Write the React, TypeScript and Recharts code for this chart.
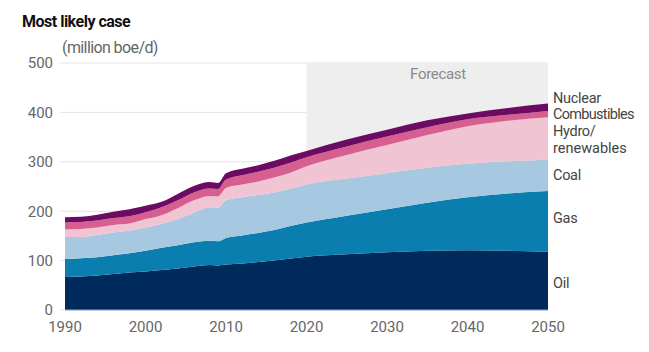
import React from 'react';
import {
  AreaChart,
  Area,
  XAxis,
  YAxis,
  CartesianGrid,
  ReferenceArea,
} from 'recharts';

// values in million boe/d
const years = [1990, 1992, 1994, 1996, 1998, 2000, 2002, 2004, 2006, 2008, 2009, 2010, 2012, 2014, 2016, 2018, 2020, 2025, 2030, 2035, 2040, 2045, 2050];
const oil = [67, 68, 70, 73, 76, 78, 81, 84, 88, 91, 90, 92, 94, 97, 100, 104, 108, 113, 117, 120, 121, 120, 118];
const gas = [36, 37, 37, 38, 39, 42, 45, 47, 49, 49, 49, 54, 57, 59, 62, 66, 69, 78, 87, 97, 107, 116, 123];
const coal = [45, 43, 45, 46, 46, 47, 48, 53, 60, 68, 68, 76, 77, 77, 76, 76, 77, 75, 73, 71, 68, 65, 63];
const hydro = [15, 16, 15, 15, 14, 17, 18, 22, 25, 23, 23, 25, 26, 27, 30, 32, 37, 48, 57, 66, 76, 82, 86];
const combustibles = [14, 14, 14, 14, 15, 14, 16, 16, 16, 15, 15, 17, 19, 20, 20, 20, 18, 17, 17, 16, 14, 12, 13];
const nuclear = [11, 11, 12, 13, 14, 13, 11, 13, 13, 13, 12, 13, 13, 13, 14, 15, 13, 14, 14, 14, 12, 14, 15];

const xTicks = [1990, 2000, 2010, 2020, 2030, 2040, 2050];
const yTicks = [0, 100, 200, 300, 400, 500];

const series = [
  { key: 'oil', color: '#002a5c' },
  { key: 'gas', color: '#0a7eaf' },
  { key: 'coal', color: '#a6c8e0' },
  { key: 'hydro', color: '#f0c4d2' },
  { key: 'combustibles', color: '#d75f8f' },
  { key: 'nuclear', color: '#6d0b63' },
];

const data = years.map((year, i) => ({
  year,
  oil: oil[i],
  gas: gas[i],
  coal: coal[i],
  hydro: hydro[i],
  combustibles: combustibles[i],
  nuclear: nuclear[i],
}));

const font = 'Roboto, "Noto Sans", sans-serif';

export default function App() {
  return (
    <div style={{ position: 'absolute', top: 0, left: 0, width: 649, height: 352, background: '#fff', fontFamily: font }}>
      <AreaChart
        width={649}
        height={352}
        data={data}
        margin={{ top: 63, right: 101, left: 15, bottom: 0 }}
      >
        <ReferenceArea x1={2020} x2={2050} y1={0} y2={500} fill="#eeeeee" fillOpacity={1} stroke="none" />
        <CartesianGrid horizontal vertical={false} stroke="#e3e3e3" />
        <XAxis
          dataKey="year"
          type="number"
          domain={[1990, 2050]}
          ticks={xTicks}
          height={42}
          tickLine={false}
          tickSize={6}
          tickMargin={5}
          axisLine={{ stroke: '#9ca6c2' }}
          tick={{ fill: '#666666', fontSize: 15, fontFamily: font }}
        />
        <YAxis
          domain={[0, 500]}
          ticks={yTicks}
          width={50}
          axisLine={false}
          tickSize={5}
          tickMargin={7}
          tickLine={{ stroke: '#e3e3e3' }}
          tick={{ fill: '#666666', fontSize: 15, fontFamily: font }}
        />
        {series.map((s) => (
          <Area
            key={s.key}
            dataKey={s.key}
            stackId="1"
            type="monotone"
            stroke="none"
            fill={s.color}
            fillOpacity={1}
            isAnimationActive={false}
          />
        ))}
      </AreaChart>
      <svg width={649} height={352} style={{ position: 'absolute', top: 0, left: 0, pointerEvents: 'none' }}>
        <text x={22} y={27} fontSize={16} fontWeight="bold" letterSpacing={-0.5} fill="#111">Most likely case</text>
        <text x={62} y={53} fontSize={16} letterSpacing={-0.6} fill="#666">(million boe/d)</text>
        <text x={438} y={79} fontSize={15} letterSpacing={-0.3} fill="#8a8a8a" textAnchor="middle">Forecast</text>
        <g fontSize={14.5} fill="#444" letterSpacing={-0.3}>
          <text x={553} y={102.5}>Nuclear</text>
          <text x={553} y={119} letterSpacing={-0.7}>Combustibles</text>
          <text x={553} y={136}>Hydro/</text>
          <text x={553} y={152.5} letterSpacing={0}>renewables</text>
          <text x={553} y={180}>Coal</text>
          <text x={553} y={223}>Gas</text>
          <text x={553} y={288}>Oil</text>
        </g>
      </svg>
    </div>
  );
}
